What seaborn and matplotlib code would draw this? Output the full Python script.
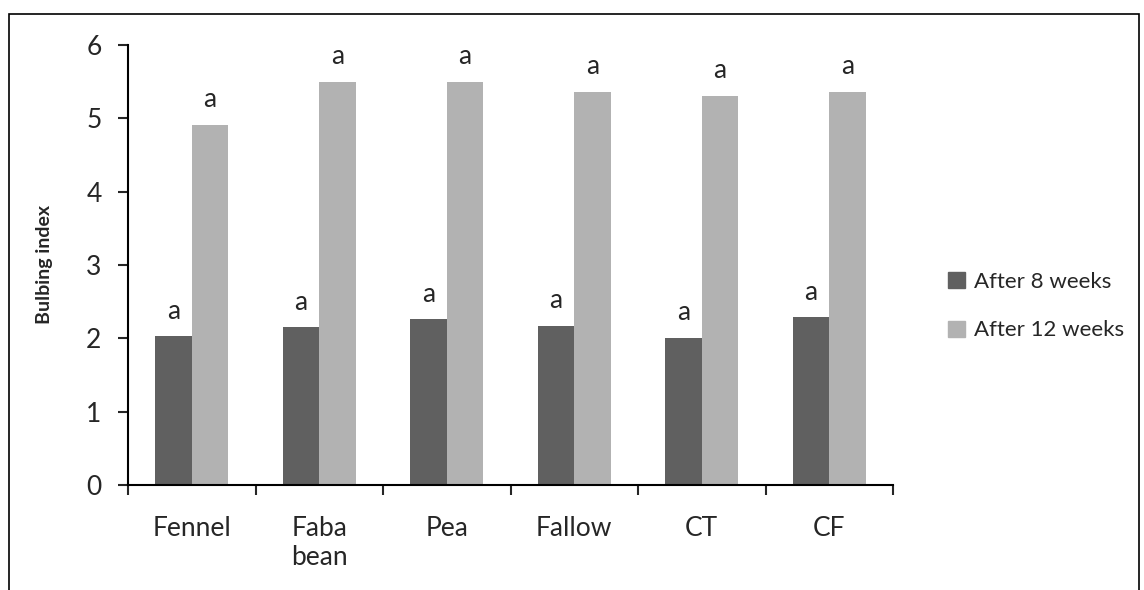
import pandas as pd
import matplotlib.pyplot as plt
import seaborn as sns
from matplotlib.patches import Rectangle

# Data
treatments = ['Fennel', 'Faba\nbean', 'Pea', 'Fallow', 'CT', 'CF']
week8 = [2.03, 2.15, 2.26, 2.17, 2.01, 2.29]
week12 = [4.91, 5.50, 5.50, 5.36, 5.31, 5.36]
letters8 = ['a', 'a', 'a', 'a', 'a', 'a']
letters12 = ['a', 'a', 'a', 'a', 'a', 'a']
series = ['After 8 weeks', 'After 12 weeks']
colors = ['#606060', '#b2b2b2']

df = pd.DataFrame({
    'Treatment': treatments * 2,
    'Bulbing index': week8 + week12,
    'Series': [series[0]] * len(treatments) + [series[1]] * len(treatments),
})

sns.set_style('white')
plt.rcParams['font.family'] = ['Lato', 'DejaVu Sans']

fig = plt.figure(figsize=(11.44, 5.90), dpi=100)
ax = fig.add_axes([128 / 1144, 1 - 485 / 590, (893 - 128) / 1144, (485 - 45) / 590])

sns.barplot(data=df, x='Treatment', y='Bulbing index', hue='Series',
            palette=colors, width=0.57, saturation=1, ax=ax,
            edgecolor='none', linewidth=0, legend=False)

# significance letters above each bar
for container, letters in zip(ax.containers, [letters8, letters12]):
    for bar, lab in zip(container, letters):
        ax.annotate(lab, (bar.get_x() + bar.get_width() / 2, bar.get_height()),
                    xytext=(0, 9), textcoords='offset points',
                    ha='center', va='bottom', fontsize=19)

ax.set_ylim(0, 6)
ax.set_xlim(-0.5, len(treatments) - 0.5)
ax.set_yticks(range(0, 7))
ax.set_xticks([i - 0.5 for i in range(len(treatments) + 1)], minor=True)
ax.tick_params(axis='x', which='major', length=0, labelsize=19, pad=22)
ax.tick_params(axis='x', which='minor', length=7, width=1.5, direction='out', bottom=True)
ax.tick_params(axis='y', length=7, width=1.5, direction='out', left=True, labelsize=19, pad=12)
ax.set_xlabel('')
ax.set_ylabel('Bulbing index', fontsize=14, fontweight='bold', labelpad=24)

sns.despine(ax=ax)
for side in ['left', 'bottom']:
    ax.spines[side].set_color('black')
    ax.spines[side].set_linewidth(1.5)

# legend to the right of the plot
handles = [Rectangle((0, 0), 1, 1, color=c) for c in colors]
fig.legend(handles, series, loc='center left', bbox_to_anchor=(928 / 1144, 1 - 306 / 590),
           frameon=False, fontsize=16, handlelength=0.75, handleheight=0.75,
           handletextpad=0.4, labelspacing=1.3)

# outer chart border
fig.patches.append(Rectangle((9 / 1144, -0.05), 1130 / 1144, 1.05 - 14 / 590,
                             transform=fig.transFigure, fill=False,
                             edgecolor='black', linewidth=1.2))

plt.savefig('out.png', dpi=100)
